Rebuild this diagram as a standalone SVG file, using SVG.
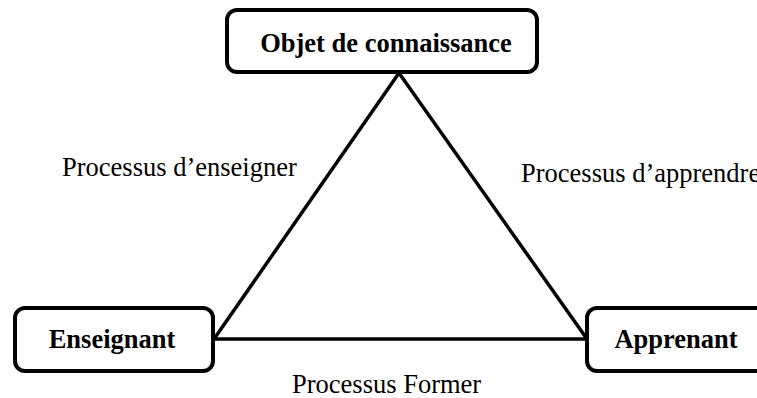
<svg xmlns="http://www.w3.org/2000/svg" width="757" height="398" viewBox="0 0 757 398">
<style>
.box{fill:#fff;stroke:#000;stroke-width:4}
.lbl{font-family:"Liberation Serif","Times New Roman",serif;font-weight:bold;font-size:26.5px;fill:#000;text-anchor:middle}
.txt{font-family:"Liberation Serif","Times New Roman",serif;font-size:26.5px;fill:#000}
.edge{stroke:#000;stroke-width:3.5;fill:none;stroke-linecap:butt}
</style>
<rect width="757" height="398" fill="#fff"/>
<g id="connectors">
<line class="edge" x1="399" y1="73" x2="214" y2="339"/>
<line class="edge" x1="399" y1="73" x2="587" y2="339"/>
<line class="edge" x1="213" y1="339" x2="587" y2="339"/>
</g>
<g id="objet">
<rect class="box" x="227" y="10" width="310" height="62" rx="10"/>
<text class="lbl" x="386" y="52">Objet de connaissance</text>
</g>
<g id="enseignant">
<rect class="box" x="15" y="308" width="198" height="63" rx="10"/>
<text class="lbl" x="112" y="348">Enseignant</text>
</g>
<g id="apprenant">
<rect class="box" x="587" y="308" width="200" height="63" rx="10"/>
<text class="lbl" x="676" y="348">Apprenant</text>
</g>
<g id="labels">
<text class="txt" x="62" y="176">Processus d’enseigner</text>
<text class="txt" x="521" y="182">Processus d’apprendre</text>
<text class="txt" x="292" y="393">Processus Former</text>
</g>
</svg>
